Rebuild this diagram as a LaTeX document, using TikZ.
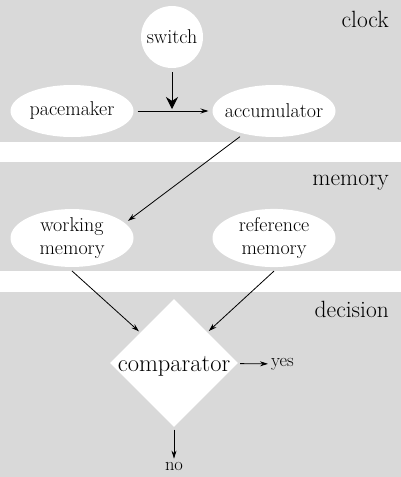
\documentclass[tikz,border=0pt]{standalone}
\usetikzlibrary{shapes.geometric,arrows.meta}
\definecolor{bandgray}{RGB}{217,217,217}
\tikzset{band/.style={
    fill=bandgray,
    draw=none},
  stage/.style={
    ellipse,
    fill=white,
    inner xsep=-8pt,
    inner ysep=0pt,
    outer sep=4pt,
    minimum width=123pt,
    minimum height=52pt,
    align=center,
    font=\fontsize{20}{23}\selectfont},
  bandlabel/.style={
    anchor=base east,
    inner sep=0pt,
    font=\fontsize{23.5}{27}\selectfont},
  outcome/.style={
    inner sep=3pt,
    font=\fontsize{18.5}{21}\selectfont},
  link/.style={
    draw=black,
    line width=0.8pt,
    -{Stealth[length=8pt,width=5pt]}}}

\begin{document}
\begin{tikzpicture}[x=1pt,y=-1pt]
	\useasboundingbox (0,0) rectangle (401,477);
% background bands
\path[band] (0,0) rectangle (401,142);
\path[band] (0,162) rectangle (401,271);
\path[band] (0,292) rectangle (401,477);

\node[bandlabel] (clocklabel) at (389,27) {clock};
\node[bandlabel] (memorylabel) at (389,185) {memory};
\node[bandlabel] (decisionlabel) at (389,317) {decision};

% clock
\node[stage, circle, inner sep=0pt, minimum size=62pt] (switch) at (172,37) {switch};
\node[stage] (pacemaker) at (72,111) {pacemaker};
\node[stage] (accumulator) at (274,111) {accumulator};
\coordinate (join) at (172,109);

% memory
\node[stage, minimum height=56pt] (working) at (72,238) {working\\memory};
\node[stage, minimum height=56pt] (reference) at (274,238) {reference\\memory};

% decision
\node[diamond, fill=white, inner sep=0pt, outer sep=2pt,
      minimum width=127pt, minimum height=129pt,
      text height=17pt, text depth=0pt,
      font=\fontsize{24.5}{28}\selectfont] (comparator) at (174,363) {comparator};
\node[outcome, anchor=west] (yes) at (268,364) {yes};
\node[outcome] (no) at (174,466) {no};

	\path[link] (pacemaker) -- (accumulator);
	\path[link, -{Stealth[length=12pt,width=12pt]}] (switch) -- (join);
	\path[link] (accumulator.217) -- (working.17);
	\path[link] (working.south) -- (comparator);
	\path[link] (reference.south) -- (comparator);
	\path[link] (comparator) -- (yes);
	\path[link] (comparator) -- (no);
  
\end{tikzpicture}
\end{document}
